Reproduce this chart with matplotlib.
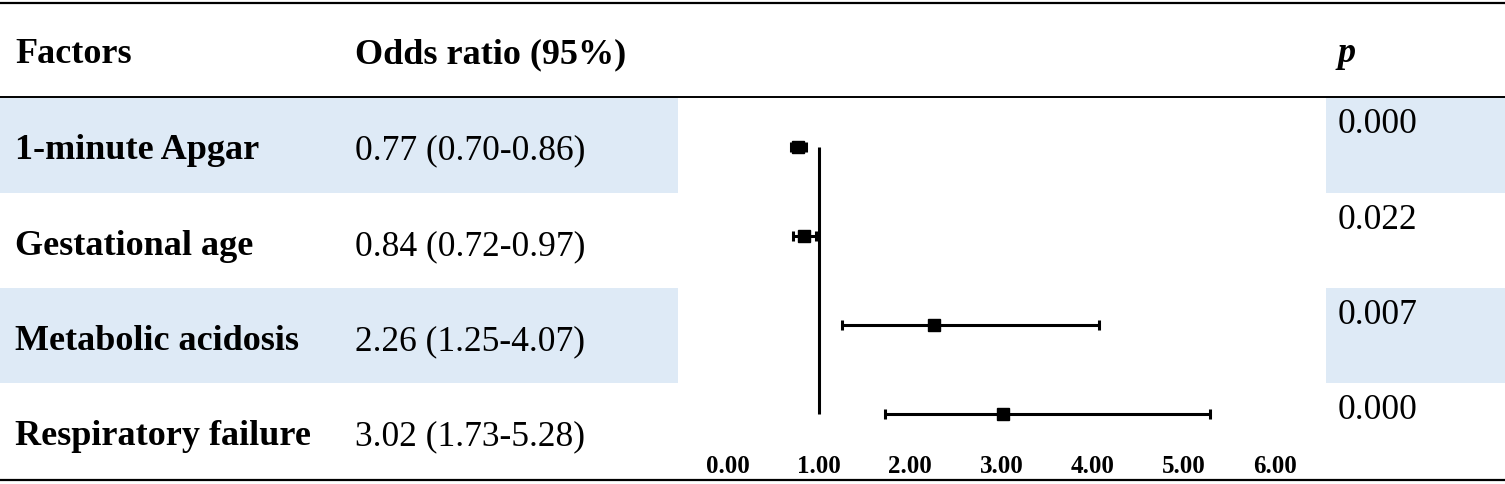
import matplotlib
matplotlib.use("Agg")
import matplotlib.pyplot as plt
import numpy as np

# ---- data ----
factors = ["1-minute Apgar", "Gestational age", "Metabolic acidosis", "Respiratory failure"]
odds = [0.77, 0.84, 2.26, 3.02]
ci_low = [0.70, 0.72, 1.25, 1.73]
ci_high = [0.86, 0.97, 4.07, 5.28]
p_values = ["0.000", "0.022", "0.007", "0.000"]
headers = ["Factors", "Odds ratio (95%)", "p"]
xticks = [0, 1, 2, 3, 4, 5, 6]
xtick_labels = ["0.00", "1.00", "2.00", "3.00", "4.00", "5.00", "6.00"]

W, H = 1505, 484
SHADE = "#DEEAF6"
plt.rcParams["font.family"] = ["Liberation Serif", "DejaVu Serif"]

fig = plt.figure(figsize=(W / 100, H / 100), dpi=100)
bg = fig.add_axes([0, 0, 1, 1])
bg.set_xlim(0, W)
bg.set_ylim(H, 0)
bg.axis("off")

# row layout (pixels)
row_edges = [97, 193, 288, 383, 479]
fs_b = 26
fs_r = 25.5

for i, name in enumerate(factors):
    top, bot = row_edges[i], row_edges[i + 1]
    if i % 2 == 0:
        bg.fill_between([0, 678], top, bot, color=SHADE, lw=0, zorder=0)
        bg.fill_between([1326, W], top, bot, color=SHADE, lw=0, zorder=0)
    base = top + 62
    bg.text(15, base, name, fontsize=fs_b, fontweight="bold", va="baseline", ha="left")
    lab = f"{odds[i]:.2f} ({ci_low[i]:.2f}-{ci_high[i]:.2f})"
    bg.text(355, base, lab, fontsize=fs_r, va="baseline", ha="left")
    bg.text(1338, top + 36, p_values[i], fontsize=fs_r, va="baseline", ha="left")

# header
bg.text(15, 63, headers[0], fontsize=fs_b, fontweight="bold", va="baseline", ha="left")
bg.text(355, 63, headers[1], fontsize=fs_b, fontweight="bold", va="baseline", ha="left")
bg.text(1338, 62, headers[2], fontsize=fs_b, fontweight="bold", style="italic",
        va="baseline", ha="left")

# rules
bg.plot([0, W], [3, 3], color="black", lw=1.6)
bg.plot([0, W], [97, 97], color="black", lw=1.4)
bg.plot([0, W], [480, 480], color="black", lw=1.6)

# ---- forest plot ----
x0_px, unit_px = 727.5, 91.3
y0_px, row_px = 147, 89.0
ax_top_px, ax_bot_px = 100, 448
ax = fig.add_axes([x0_px / W, 1 - ax_bot_px / H, 6 * unit_px / W,
                   (ax_bot_px - ax_top_px) / H])
ax.patch.set_alpha(0)
ax.set_xlim(0, 6)
ax.set_ylim((ax_bot_px - y0_px) / row_px, (ax_top_px - y0_px) / row_px)
for s in ax.spines.values():
    s.set_visible(False)
ax.set_yticks([])
ax.set_xticks(xticks)
ax.set_xticklabels(xtick_labels, fontsize=18, fontweight="bold")
ax.tick_params(axis="x", length=0, pad=5)

ypos = np.arange(len(factors))
ax.vlines(1, ypos[0], ypos[-1], color="black", lw=2.2)
odds_a = np.array(odds)
err = [odds_a - np.array(ci_low), np.array(ci_high) - odds_a]
ax.errorbar(odds_a, ypos, xerr=err, fmt="s", color="black", ms=8.3,
            elinewidth=2.2, capsize=3.8, capthick=2.2)

fig.savefig("out.png", dpi=100)
